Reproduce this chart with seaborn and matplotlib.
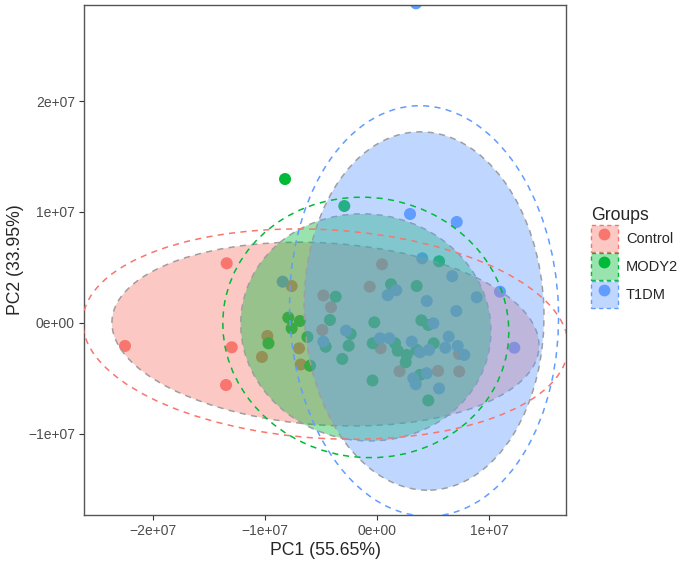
import numpy as np
import pandas as pd
import matplotlib
matplotlib.use("Agg")
import matplotlib.pyplot as plt
import seaborn as sns
from matplotlib.patches import Ellipse, Patch
from matplotlib.lines import Line2D
from matplotlib.colors import to_rgba

# PCA scores (units of 1e7)
control_pc1 = [-1.342, -2.25, -1.297, -1.348, -0.762, -0.979, -1.027, -0.696, -0.681, -0.479,
               -0.411, -0.488, 0.045, -0.065, 0.033, 0.201, 0.545, 0.734, 0.732]
control_pc2 = [0.538, -0.207, -0.219, -0.559, 0.333, -0.117, -0.306, -0.228, -0.374, 0.248,
               0.142, -0.063, 0.529, 0.327, -0.228, -0.435, -0.432, -0.437, -0.279]
mody2_pc1 = [-0.821, -0.292, 0.554, -0.792, -0.688, -0.762, -0.969, -0.598, -0.621, -0.369,
             -0.420, -0.458, 0.125, 0.354, 0.396, 0.458, -0.024, -0.235, -0.253, -0.310,
             -0.038, 0.161, 0.185, 0.265, 0.256, 0.354, 0.506, 0.384, -0.040, 0.458]
mody2_pc2 = [1.297, 1.054, 0.556, 0.048, 0.018, -0.048, -0.183, -0.385, -0.126, 0.237,
             0.027, -0.214, 0.349, 0.333, 0.024, -0.018, 0.006, -0.099, -0.205, -0.324,
             -0.183, -0.183, -0.250, -0.288, -0.354, -0.243, -0.183, -0.468, -0.518, -0.698]
t1dm_pc1 = [0.348, 0.295, 0.712, 0.404, 0.672, 1.098, 0.890, 1.226, -0.842, -0.479,
            0.172, 0.096, 0.444, 0.708, 0.503, -0.277, 0.027, 0.110, 0.310, 0.384,
            0.464, 0.610, 0.640, 0.721, 0.779, 0.444, 0.324, 0.346, 0.554]
t1dm_pc2 = [2.88, 0.982, 0.910, 0.583, 0.421, 0.282, 0.232, -0.223, 0.372, -0.168,
            0.295, 0.250, 0.198, 0.108, -0.003, -0.069, -0.138, -0.138, -0.168, -0.264,
            -0.243, -0.223, -0.123, -0.207, -0.288, -0.453, -0.498, -0.552, -0.590]

groups = ["Control", "MODY2", "T1DM"]
colors = ["#F8766D", "#00BA38", "#619CFF"]

# ellipse parameters per group (units of 1e7): centre, width, height, angle
ell_cx = [-0.46, -0.10, 0.42]
ell_cy = [-0.10, -0.04, 0.108]
inner_w = [3.82, 2.24, 2.14]
inner_h = [1.64, 2.04, 3.23]
inner_ang = [-3.8, -10, 2]
outer_w = [4.34, 2.56, 2.40]
outer_h = [1.88, 2.34, 3.70]
outer_ang = [-3.5, -10, 2]

scale = 1e7
df = pd.DataFrame({
    "PC1": np.array(control_pc1 + mody2_pc1 + t1dm_pc1) * scale,
    "PC2": np.array(control_pc2 + mody2_pc2 + t1dm_pc2) * scale,
    "Groups": ["Control"] * len(control_pc1) + ["MODY2"] * len(mody2_pc1) + ["T1DM"] * len(t1dm_pc1),
})

sns.set_style("white")
plt.rcParams["font.family"] = ["Liberation Sans", "DejaVu Sans"]

fig = plt.figure(figsize=(6.85, 5.64), dpi=100)
ax = fig.add_axes([84 / 685, 1 - 515 / 564, 482 / 685, 510 / 564])

sns.scatterplot(data=df, x="PC1", y="PC2", hue="Groups", hue_order=groups,
                palette=colors, s=75, linewidth=0, legend=False, ax=ax, zorder=1)

# filled ellipses with grey dashed border
for i, g in enumerate(groups):
    e = Ellipse((ell_cx[i] * scale, ell_cy[i] * scale), inner_w[i] * scale, inner_h[i] * scale,
                angle=inner_ang[i], facecolor=to_rgba(colors[i], 0.4), edgecolor="#9E9E9E",
                linestyle=(0, (4, 3.5)), linewidth=1.1, zorder=2 + i * 0.1)
    ax.add_patch(e)

# outer dashed ellipses
for i, g in enumerate(groups):
    e = Ellipse((ell_cx[i] * scale, ell_cy[i] * scale), outer_w[i] * scale, outer_h[i] * scale,
                angle=outer_ang[i], facecolor="none", edgecolor=colors[i],
                linestyle=(0, (4, 3.5)), linewidth=1.1, zorder=3)
    ax.add_patch(e)

ax.set_xlim(-2.616e7, 1.6875e7)
ax.set_ylim(-1.73e7, 2.865e7)
ax.set_xticks([-2e7, -1e7, 0, 1e7])
ax.set_xticklabels(["\u22122e+07", "\u22121e+07", "0e+00", "1e+07"])
ax.set_yticks([-1e7, 0, 1e7, 2e7])
ax.set_yticklabels(["\u22121e+07", "0e+00", "1e+07", "2e+07"])
ax.tick_params(axis="both", direction="out", length=3.5, width=0.8, color="#333333",
               labelcolor="#4D4D4D", labelsize=10, pad=3, bottom=True, left=True)
ax.set_xlabel("PC1 (55.65%)", fontsize=12.7, labelpad=3)
ax.set_ylabel("PC2 (33.95%)", fontsize=12.7, labelpad=3)
for sp in ax.spines.values():
    sp.set_color("#555555")
    sp.set_linewidth(1.0)

handles = [
    (Patch(facecolor=to_rgba(c, 0.4), edgecolor=c, linestyle=(0, (3, 2.5)), linewidth=1.0),
     Line2D([], [], marker="o", linestyle="", color=c, markersize=7.5))
    for c in colors
]
leg = fig.legend(handles, groups, title="Groups", loc="upper left",
                 bbox_to_anchor=(585 / 685, 1 - 201 / 564), frameon=False,
                 fontsize=10.5, title_fontsize=12.7, handlelength=1.85, handleheight=2.47,
                 labelspacing=0.08, handletextpad=0.55, borderaxespad=0)
leg._legend_box.align = "left"

fig.savefig("out.png", dpi=100)
